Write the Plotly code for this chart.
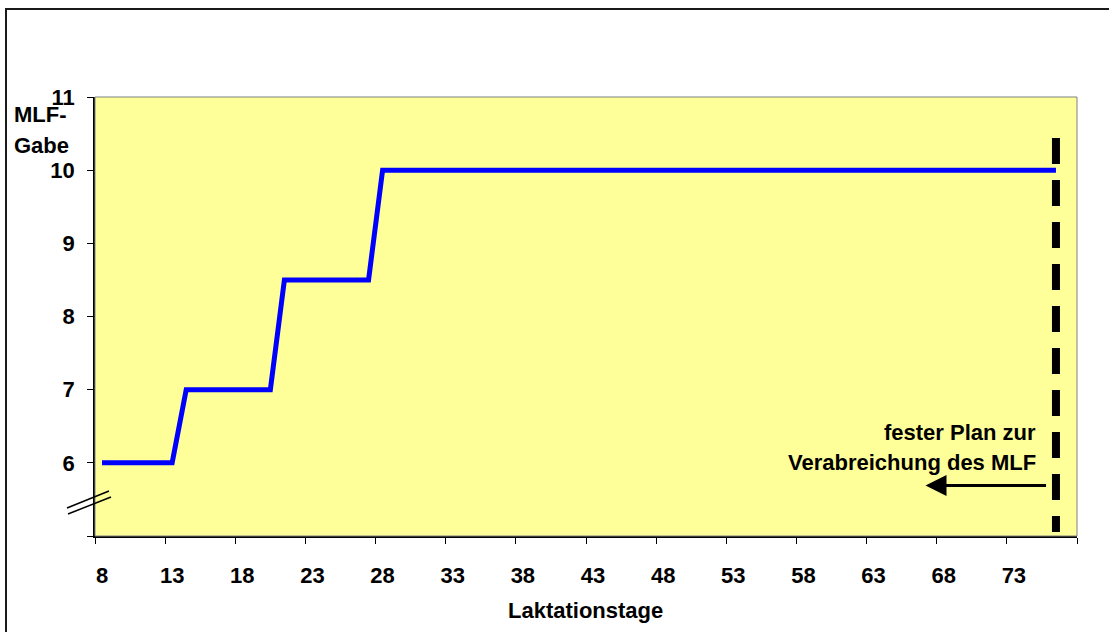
import plotly.graph_objects as go

# MLF feeding plan: step points (lactation day -> dose)
tage = [8, 13, 14, 20, 21, 27, 28, 76]
gabe = [6, 6, 7, 7, 8.5, 8.5, 10, 10]

# category axis: days 8..77, labels every 5th day
x_labels = [8, 13, 18, 23, 28, 33, 38, 43, 48, 53, 58, 63, 68, 73]
y_ticks = [5, 6, 7, 8, 9, 10, 11]
y_text = ["", "6", "7", "8", "9", "10", "11"]

plan_end_day = 76
arrow_from, arrow_to, arrow_y = 75.4, 66.7, 5.69

W, H = 1109, 632
L, R, T, B = 95, 32, 97, 96
PW, PH = W - L - R, H - T - B

def px(xp):
    return (xp - L) / PW

def py(yp):
    return (H - B - yp) / PH

FONT = "Liberation Sans, Arial, sans-serif"
fs = 22

def bold(size=fs):
    return dict(family=FONT, size=size, color="black", weight="bold")

fig = go.Figure()
fig.add_trace(go.Scatter(
    x=tage, y=gabe, mode="lines",
    line=dict(color="#0000FF", width=5),
    hoverinfo="skip", showlegend=False,
))

shapes = [
    # outer chart frame
    dict(type="rect", xref="paper", yref="paper",
         x0=px(6), x1=px(1130), y0=py(650), y1=py(9),
         line=dict(color="#1a1a1a", width=2), fillcolor="rgba(0,0,0,0)", layer="below"),
    # plot area frame
    dict(type="rect", xref="paper", yref="paper", x0=0, x1=1, y0=0, y1=1,
         line=dict(color="#808080", width=1), fillcolor="rgba(0,0,0,0)"),
    # end of fixed plan
    dict(type="line", xref="x", yref="y", x0=plan_end_day, x1=plan_end_day,
         y0=10.44, y1=5.055, line=dict(color="black", width=8, dash="26px,16px")),
    # axis break marks
    dict(type="line", xref="paper", yref="paper", x0=px(67), y0=py(508), x1=px(109), y1=py(491),
         line=dict(color="black", width=1.5)),
    dict(type="line", xref="paper", yref="paper", x0=px(68), y0=py(514), x1=px(111), y1=py(497),
         line=dict(color="black", width=1.5)),
]

annotations = [
    dict(text="MLF-", xref="paper", yref="paper", x=px(12), y=py(115),
         xanchor="left", yanchor="middle", showarrow=False, font=bold()),
    dict(text="Gabe", xref="paper", yref="paper", x=px(12), y=py(145),
         xanchor="left", yanchor="middle", showarrow=False, font=bold()),
    dict(text="Laktationstage", xref="paper", yref="paper", x=px(585), y=py(610),
         xanchor="center", yanchor="middle", showarrow=False, font=bold()),
    dict(text="fester Plan zur", xref="paper", yref="paper", x=px(1038), y=py(432),
         xanchor="right", yanchor="middle", showarrow=False, font=bold()),
    dict(text="Verabreichung des MLF", xref="paper", yref="paper", x=px(1038), y=py(462),
         xanchor="right", yanchor="middle", showarrow=False, font=bold()),
    dict(text="", x=arrow_to, y=arrow_y, xref="x", yref="y",
         ax=arrow_from, ay=arrow_y, axref="x", ayref="y",
         showarrow=True, arrowhead=2, arrowsize=1.4, arrowwidth=3, arrowcolor="black"),
]

fig.update_layout(
    width=W, height=H,
    margin=dict(l=L, r=R, t=T, b=B, pad=0),
    paper_bgcolor="white",
    plot_bgcolor="#FFFF99",
    showlegend=False,
    shapes=shapes,
    annotations=annotations,
    xaxis=dict(
        range=[7.5, 77.5], tickmode="array", tickvals=x_labels,
        ticktext=[str(v) for v in x_labels],
        ticks="outside", ticklen=19, tickcolor="rgba(0,0,0,0)",
        minor=dict(tickmode="linear", tick0=7.5, dtick=5, ticks="outside",
                   ticklen=6, tickcolor="black", showgrid=False),
        showgrid=False, zeroline=False, showline=True, linecolor="black", linewidth=1.5,
        tickfont=bold(),
        fixedrange=True,
    ),
    yaxis=dict(
        range=[5, 11], tickmode="array", tickvals=y_ticks, ticktext=y_text,
        ticks="outside", ticklen=6, tickcolor="black", ticklabelstandoff=8,
        showgrid=False, zeroline=False, showline=True, linecolor="black", linewidth=1.5,
        tickfont=bold(),
        fixedrange=True,
    ),
)

fig.write_html("out.html")
